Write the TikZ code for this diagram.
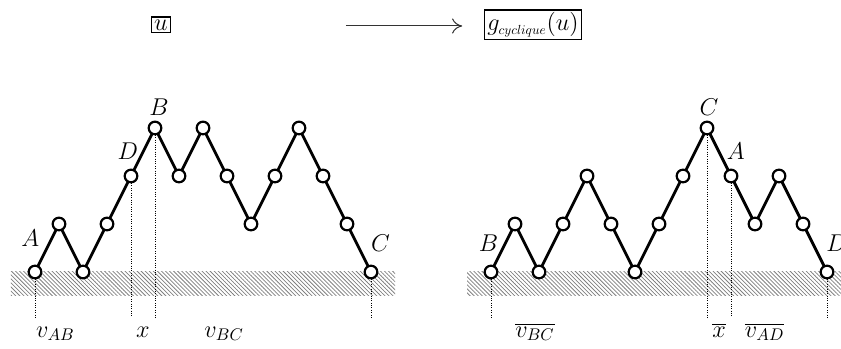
\documentclass[tikz,border=0pt]{standalone}
\usetikzlibrary{patterns.meta,arrows.meta}
\begin{document}
\begin{tikzpicture}[x=0.5cm, y=0.5cm,
    every node/.style={font=\fontsize{14.4}{17}\selectfont},
    vtx/.style={circle, draw, line width=1.3pt, fill=white, inner sep=0pt, minimum size=7.5pt},
    chemin/.style={line width=1.7pt},
    sol/.style={pattern={Lines[angle=-45, distance=1.7pt, line width=0.45pt]}, pattern color=gray},
    repere/.style={densely dotted, thin},
    boite/.style={draw, thick, inner sep=1.5pt}]
    \useasboundingbox (-1.458,-3.208) rectangle (33.583,11.333);

    % 1. sol hachure (couche du bas)
    \fill[sol] (-1,-1) rectangle (15,0);
    \fill[sol] (18,-1) rectangle (34,0);

    % 2. titre
    \node[boite] (u) at (5.25,10.3) {$u$};
    \node[boite] (gu) at (20.75,10.3) {$g_{\scalebox{0.78}{$\scriptstyle cyclique$}}(u)$};
    \coordinate (fd) at (12.95,10.25);
    \coordinate (ff) at (17.8,10.25);
    \draw[-{To[length=6pt,width=9pt]}, semithick, black!80] (fd) -- (ff);

    % 3. sommets
    \foreach \h [count=\i from 0] in {0,1,0,1,2,3,2,3,2,1,2,3,2,1,0}
        \coordinate (l\i) at (\i,2*\h);
    \foreach \h [count=\i from 0] in {0,1,0,1,2,1,0,1,2,3,2,1,2,1,0}
        \coordinate (r\i) at (19+\i,2*\h);

    % 4. traits pointilles
    \foreach \p in {l0, l4, l5, l14, r0, r9, r10, r14}
        \draw[repere] (\p) -- (\p |- 0,-1.9);

    % 5. chemins
    \draw[chemin] (l0) \foreach \i in {1,...,14} { -- (l\i) };
    \draw[chemin] (r0) \foreach \i in {1,...,14} { -- (r\i) };
    \foreach \i in {0,...,14} {
        \node[vtx] (nl\i) at (l\i) {};
        \node[vtx] (nr\i) at (r\i) {};
    }

    % 6. etiquettes
    \node (eA) at (-0.2,1.4) {$A$};
    \node (eD) at (3.87,5.05) {$D$};
    \node (eB) at (5.17,6.85) {$B$};
    \node (eC) at (14.4,1.2) {$C$};
    \node (fB) at (18.9,1.2) {$B$};
    \node (fC) at (28.08,6.85) {$C$};
    \node (fA) at (29.2,5.05) {$A$};
    \node (fD) at (33.4,1.2) {$D$};

    \node[anchor=base] (vab) at (0.85,-2.71) {$v_{AB}$};
    \node[anchor=base] (x) at (4.5,-2.71) {$x$};
    \node[anchor=base] (vbc) at (7.88,-2.71) {$v_{BC}$};
    \node[anchor=base] (wbc) at (20.83,-2.71) {$\overline{v_{BC}}$};
    \node[anchor=base] (wx) at (28.5,-2.71) {$\overline{x}$};
    \node[anchor=base] (wad) at (30.4,-2.71) {$\overline{v_{AD}}$};
\end{tikzpicture}
\end{document}
